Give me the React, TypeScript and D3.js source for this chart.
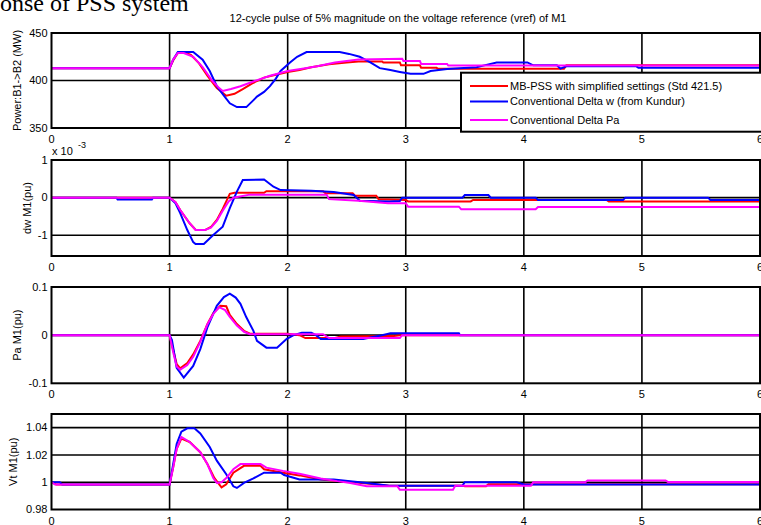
import React, { useEffect, useRef } from 'react';
import * as d3 from 'd3';

type Pt = [number, number];

// series legend
const seriesNames = [
  'MB-PSS with simplified settings (Std 421.5)',
  'Conventional Delta w (from Kundur)',
  'Conventional Delta Pa',
];
const seriesColors = ['#ff0000', '#0000ff', '#ff00ff'];

const xTicks = [0, 1, 2, 3, 4, 5, 6];

// Power B1->B2 (MW)
const powerRed: Pt[] = [[0, 413], [1.0, 413], [1.03, 421], [1.07, 429], [1.12, 430], [1.18, 427], [1.25, 418], [1.32, 405], [1.4, 392], [1.48, 384], [1.55, 386], [1.62, 391], [1.7, 397], [1.8, 403], [1.9, 406], [2.0, 409], [2.1, 411], [2.2, 414], [2.35, 417], [2.5, 419], [2.6, 420], [2.8, 420], [2.81, 419], [2.95, 419], [2.96, 416], [3.12, 416], [3.13, 413.5], [3.26, 413.5], [3.27, 412.5], [4.34, 412.5], [4.36, 416], [6, 416]];
const powerBlue: Pt[] = [[0, 413], [1.0, 413], [1.03, 422], [1.07, 430], [1.2, 430], [1.28, 422], [1.34, 410], [1.4, 394], [1.46, 384], [1.51, 376], [1.57, 372], [1.65, 372], [1.7, 378], [1.74, 383], [1.8, 388], [1.85, 394], [1.9, 402], [1.94, 410], [2.02, 419], [2.08, 425], [2.16, 430], [2.44, 430], [2.52, 428], [2.61, 425], [2.7, 419], [2.78, 413], [2.87, 411], [2.95, 409], [3.04, 407], [3.15, 407], [3.21, 410], [3.35, 412], [3.6, 414], [3.7, 417], [3.77, 419], [4.03, 419], [4.08, 416], [4.28, 416], [4.31, 412.5], [4.36, 415], [4.95, 415], [4.97, 413.5], [6, 413.5]];
const powerMagenta: Pt[] = [[0, 413], [1.0, 413], [1.03, 422], [1.07, 429], [1.12, 429], [1.2, 425], [1.28, 414], [1.36, 400], [1.42, 392], [1.45, 389], [1.52, 391], [1.6, 394], [1.71, 399], [1.85, 405], [2.0, 410], [2.15, 413], [2.25, 415], [2.4, 419], [2.6, 422], [2.97, 423], [2.98, 420.5], [3.12, 420.5], [3.13, 417.5], [3.35, 417.5], [3.36, 415.8], [6, 415.8]];

// dw M1 (pu, x 1e-3)
const dwRed: Pt[] = [[0, 0], [1.0, 0], [1.05, -0.12], [1.09, -0.33], [1.17, -0.68], [1.22, -0.85], [1.3, -0.86], [1.35, -0.78], [1.4, -0.59], [1.45, -0.3], [1.48, -0.1], [1.51, 0.1], [1.55, 0.13], [1.8, 0.13], [1.82, 0.17], [2.3, 0.17], [2.32, 0.12], [2.55, 0.12], [2.57, 0.05], [2.75, 0.05], [2.77, -0.04], [3.0, -0.06], [3.02, -0.1], [3.55, -0.1], [3.57, -0.06], [4.7, -0.06], [4.72, -0.1], [6, -0.1]];
const dwBlue: Pt[] = [[0, 0], [0.55, 0], [0.56, -0.05], [0.85, -0.05], [0.86, 0], [1.0, 0], [1.05, -0.15], [1.09, -0.41], [1.15, -0.86], [1.2, -1.18], [1.22, -1.23], [1.29, -1.23], [1.37, -0.99], [1.45, -0.77], [1.51, -0.28], [1.57, 0.16], [1.62, 0.47], [1.8, 0.48], [1.88, 0.29], [1.94, 0.2], [2.2, 0.18], [2.39, 0.15], [2.56, 0.07], [2.61, -0.08], [2.86, -0.1], [2.95, -0.09], [2.97, 0], [3.48, 0], [3.5, 0.07], [3.7, 0.07], [3.72, 0], [4.1, 0], [4.12, -0.06], [4.84, -0.06], [4.86, 0], [5.56, 0], [5.58, -0.06], [6, -0.06]];
const dwMagenta: Pt[] = [[0, 0], [1.0, 0], [1.05, -0.12], [1.09, -0.33], [1.17, -0.68], [1.22, -0.86], [1.3, -0.86], [1.35, -0.8], [1.4, -0.62], [1.45, -0.35], [1.5, -0.1], [1.54, 0], [1.68, 0.08], [2.33, 0.08], [2.35, -0.04], [2.6, -0.08], [2.85, -0.15], [3.0, -0.15], [3.02, -0.24], [3.45, -0.24], [3.47, -0.31], [4.1, -0.31], [4.12, -0.25], [6, -0.25]];

// Pa M1 (pu)
const paRed: Pt[] = [[0, 0], [1.0, 0], [1.03, -0.03], [1.06, -0.06], [1.09, -0.069], [1.15, -0.058], [1.2, -0.04], [1.26, -0.012], [1.32, 0.023], [1.37, 0.046], [1.43, 0.061], [1.48, 0.06], [1.51, 0.042], [1.57, 0.023], [1.63, 0.009], [1.68, 0.003], [2.0, 0.003], [2.1, 0], [2.15, -0.006], [2.4, -0.006], [2.45, -0.003], [2.9, -0.002], [2.95, 0], [6, 0]];
const paBlue: Pt[] = [[0, 0], [1.0, 0], [1.02, -0.01], [1.06, -0.068], [1.12, -0.088], [1.2, -0.064], [1.26, -0.029], [1.32, 0.016], [1.4, 0.061], [1.46, 0.079], [1.51, 0.086], [1.56, 0.078], [1.6, 0.065], [1.65, 0.037], [1.71, 0.009], [1.74, -0.012], [1.82, -0.026], [1.91, -0.026], [1.99, -0.008], [2.05, 0], [2.12, 0.005], [2.2, 0.005], [2.24, 0], [2.28, -0.008], [2.64, -0.008], [2.7, -0.005], [2.8, 0], [2.87, 0.004], [3.45, 0.004], [3.46, 0], [6, 0]];
const paMagenta: Pt[] = [[0, 0], [1.0, 0], [1.03, -0.035], [1.06, -0.065], [1.09, -0.072], [1.15, -0.062], [1.2, -0.045], [1.26, -0.014], [1.32, 0.022], [1.37, 0.044], [1.42, 0.058], [1.47, 0.052], [1.51, 0.038], [1.57, 0.02], [1.63, 0.007], [1.68, 0.002], [2.3, 0.002], [2.35, -0.006], [2.95, -0.006], [2.97, 0], [6, 0]];

// Vt M1 (pu)
const vtRed: Pt[] = [[0, 1.0], [0.04, 0.9983], [1.0, 0.9983], [1.03, 1.0107], [1.06, 1.0245], [1.1, 1.032], [1.17, 1.0295], [1.26, 1.022], [1.32, 1.0133], [1.38, 1.003], [1.44, 0.9962], [1.48, 0.9985], [1.54, 1.007], [1.63, 1.012], [1.77, 1.012], [1.8, 1.0095], [1.96, 1.007], [2.1, 1.005], [2.28, 1.002], [2.56, 1.0], [2.8, 0.998], [2.86, 0.9975], [3.48, 0.9975], [3.5, 0.997], [3.68, 0.997], [3.7, 0.9985], [6, 0.9985]];
const vtBlue: Pt[] = [[0, 1.0], [0.07, 1.0], [0.09, 0.9983], [1.0, 0.9983], [1.03, 1.013], [1.06, 1.028], [1.1, 1.037], [1.15, 1.0395], [1.21, 1.0395], [1.26, 1.0358], [1.34, 1.0258], [1.4, 1.0158], [1.48, 1.0058], [1.54, 0.997], [1.57, 0.9958], [1.63, 0.9995], [1.71, 1.0028], [1.8, 1.007], [1.94, 1.007], [1.97, 1.0053], [2.05, 1.0033], [2.1, 1.002], [2.39, 1.002], [2.53, 1.0007], [2.67, 0.9995], [2.86, 0.9975], [3.48, 0.9975], [3.5, 1.0], [3.94, 1.0], [4.0, 0.9983], [6, 0.9983]];
const vtMagenta: Pt[] = [[0, 1.0], [0.03, 0.9983], [1.0, 0.9983], [1.03, 1.0107], [1.06, 1.0245], [1.1, 1.0332], [1.17, 1.0295], [1.26, 1.022], [1.32, 1.0133], [1.37, 1.003], [1.4, 0.9995], [1.44, 1.0], [1.48, 1.003], [1.54, 1.0095], [1.6, 1.0133], [1.77, 1.0133], [1.82, 1.0107], [1.96, 1.0083], [2.1, 1.0062], [2.28, 1.0028], [2.42, 1.0008], [2.53, 0.9995], [2.67, 0.997], [2.93, 0.997], [2.95, 0.9945], [3.4, 0.9945], [3.42, 0.9975], [4.06, 0.9975], [4.08, 1.0], [4.52, 1.0], [4.54, 1.0013], [5.2, 1.0013], [5.22, 1.0002], [6, 1.0002]];

const FONT = '"Liberation Sans", Arial, Helvetica, sans-serif';

const panels = [
  { series: [powerRed, powerBlue, powerMagenta], top: 33, bottom: 128, domain: [350, 450], ticks: [350, 400, 450], label: 'Power:B1->B2 (MW)', labelX: 17 },
  { series: [dwRed, dwBlue, dwMagenta], top: 160, bottom: 256, domain: [-1.55, 1], ticks: [-1, 0, 1], label: 'dw M1(pu)', labelX: 27 },
  { series: [paRed, paBlue, paMagenta], top: 287, bottom: 383.3, domain: [-0.1, 0.1], ticks: [-0.1, 0, 0.1], label: 'Pa M1(pu)', labelX: 17 },
  { series: [vtRed, vtBlue, vtMagenta], top: 414, bottom: 509.5, domain: [0.98, 1.05], ticks: [0.98, 1, 1.02, 1.04], label: 'Vt M1(pu)', labelX: 13 },
];

function PssResponse() {
  const svgRef = useRef<SVGSVGElement>(null);

  useEffect(() => {
    const width = 761;
    const height = 525;
    const left = 51.5;
    const right = 760;

    const svg = d3.select(svgRef.current)
      .attr('width', width)
      .attr('height', height);
    svg.selectAll('*').remove();

    svg.append('rect').attr('width', width).attr('height', height).attr('fill', '#fff');

    const x = d3.scaleLinear().domain([0, 6]).range([left, right]);

    // cut-off figure caption
    svg.append('text')
      .attr('x', 0).attr('y', 11)
      .attr('font-family', '"Liberation Serif", "Times New Roman", serif')
      .attr('font-size', 24)
      .text('onse of PSS system');

    svg.append('text')
      .attr('x', 398).attr('y', 22)
      .attr('text-anchor', 'middle')
      .attr('font-family', FONT).attr('font-size', 11)
      .text('12-cycle pulse of 5% magnitude on the voltage reference (vref) of M1');

    panels.forEach((p, i) => {
      const y = d3.scaleLinear().domain(p.domain).range([p.bottom, p.top]);
      const g = svg.append('g');

      g.append('rect')
        .attr('x', left).attr('y', p.top)
        .attr('width', right - left).attr('height', p.bottom - p.top)
        .attr('fill', '#fff');

      // grid
      g.selectAll('.gx').data(xTicks.slice(1, -1)).enter().append('line')
        .attr('x1', d => x(d)).attr('x2', d => x(d))
        .attr('y1', p.top).attr('y2', p.bottom)
        .attr('stroke', '#000').attr('stroke-width', 1.6);
      g.selectAll('.gy').data(p.ticks.filter(t => t > p.domain[0] && t < p.domain[1])).enter().append('line')
        .attr('x1', left).attr('x2', right)
        .attr('y1', d => y(d)).attr('y2', d => y(d))
        .attr('stroke', '#000').attr('stroke-width', 1.6);

      const clipId = `clip${i}`;
      svg.append('clipPath').attr('id', clipId).append('rect')
        .attr('x', left).attr('y', p.top)
        .attr('width', right - left).attr('height', p.bottom - p.top);

      const line = d3.line<Pt>().x(d => x(d[0])).y(d => y(d[1]));
      g.selectAll('.series').data(p.series).enter().append('path')
        .attr('d', d => line(d))
        .attr('fill', 'none')
        .attr('stroke', (_, k) => seriesColors[k])
        .attr('stroke-width', 2)
        .attr('clip-path', `url(#${clipId})`);

      g.append('rect')
        .attr('x', left).attr('y', p.top)
        .attr('width', right - left).attr('height', p.bottom - p.top)
        .attr('fill', 'none').attr('stroke', '#000').attr('stroke-width', 2);

      // y tick labels
      g.selectAll('.yt').data(p.ticks).enter().append('text')
        .attr('x', left - 4).attr('y', d => y(d))
        .attr('dy', '0.35em')
        .attr('text-anchor', 'end')
        .attr('font-family', FONT).attr('font-size', 11)
        .text(d => String(d));

      // x tick labels
      g.selectAll('.xt').data(xTicks).enter().append('text')
        .attr('x', d => x(d)).attr('y', p.bottom + 15)
        .attr('text-anchor', 'middle')
        .attr('font-family', FONT).attr('font-size', 11)
        .text(d => String(d));

      const cy = (p.top + p.bottom) / 2;
      g.append('text')
        .attr('transform', `translate(${p.labelX},${cy}) rotate(-90)`)
        .attr('text-anchor', 'middle')
        .attr('dy', '0.35em')
        .attr('font-family', FONT).attr('font-size', 11)
        .text(p.label);
    });

    // exponent for dw panel
    const ex = svg.append('text').attr('font-family', FONT).attr('font-size', 11);
    ex.append('tspan').attr('x', 52).attr('y', 155).text('x 10');
    ex.append('tspan').attr('x', 78).attr('y', 148).attr('font-size', 9).text('-3');

    // legend
    const lg = svg.append('g');
    lg.append('rect')
      .attr('x', 461).attr('y', 72.7)
      .attr('width', 320).attr('height', 59)
      .attr('fill', '#fff').attr('stroke', '#000').attr('stroke-width', 2);
    const rowsY = [86, 101.5, 120];
    seriesNames.forEach((name, k) => {
      lg.append('line')
        .attr('x1', 470).attr('x2', 508)
        .attr('y1', rowsY[k]).attr('y2', rowsY[k])
        .attr('stroke', seriesColors[k]).attr('stroke-width', 2);
      lg.append('text')
        .attr('x', 510).attr('y', rowsY[k])
        .attr('dy', '0.35em')
        .attr('font-family', FONT).attr('font-size', 11)
        .text(name);
    });
  }, []);

  return <svg ref={svgRef} style={{ position: 'absolute', left: 0, top: 0, display: 'block' }}></svg>;
}

export default function App() {
  return <PssResponse />;
}
